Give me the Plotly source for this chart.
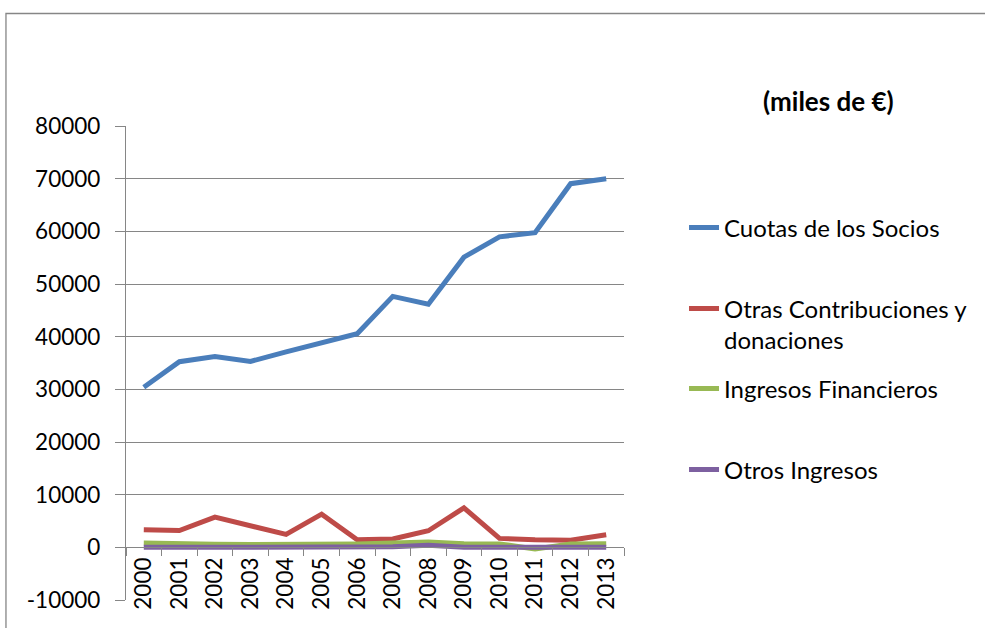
import plotly.graph_objects as go

years = ["2000", "2001", "2002", "2003", "2004", "2005", "2006",
         "2007", "2008", "2009", "2010", "2011", "2012", "2013"]
cuotas = [30400, 35250, 36250, 35300, 37100, 38900, 40550,
          47650, 46150, 55100, 58950, 59750, 69050, 70000]
otras = [3350, 3200, 5750, 4150, 2450, 6300, 1450,
         1600, 3150, 7500, 1700, 1450, 1350, 2400]
financieros = [800, 800, 600, 550, 550, 550, 650,
               800, 1000, 700, 650, -300, 650, 700]
otros_ingresos = [0, 100, 0, 0, 0, 0, 50,
                  100, 400, 0, 0, 0, 0, 0]

y_tick_values = [-10000, 0, 10000, 20000, 30000, 40000, 50000, 60000, 70000, 80000]
y_tick_labels = ["-10000", "0", "10000", "20000", "30000", "40000",
                 "50000", "60000", "70000", "80000"]

series_names = ["Cuotas de los Socios", "Otras Contribuciones y<br>donaciones",
                "Ingresos Financieros", "Otros Ingresos"]
series_values = [cuotas, otras, financieros, otros_ingresos]
colors = ["#4A7EBB", "#BE4B48", "#98B954", "#7D60A0"]
legend_ids = ["legend", "legend2", "legend3", "legend4"]

FONT = "Lato"
W, H = 985, 628
L, R, T, B = 125.5, 627.5, 126, 600


def px_x(p):
    return (p - L) / (R - L)


def px_y(p):
    return (B - p) / (B - T)


fig = go.Figure()
for name, vals, col, lg in zip(series_names, series_values, colors, legend_ids):
    fig.add_trace(go.Scatter(
        x=years, y=vals, mode="lines", name=name,
        line=dict(color=col, width=5),
        legend=lg, hoverinfo="skip",
    ))

legend_common = dict(
    xanchor="left", yanchor="middle", valign="top",
    bgcolor="rgba(0,0,0,0)", borderwidth=0,
    font=dict(family=FONT, size=24, color="#000000"),
)
legend_centers = [228, 324.5, 389, 470]

layout_legends = {}
for lg, cy in zip(legend_ids, legend_centers):
    layout_legends[lg] = dict(x=px_x(688), y=px_y(cy), **legend_common)

fig.update_layout(
    width=W, height=H,
    margin=dict(l=L, r=W - R, t=T, b=H - B, pad=0),
    paper_bgcolor="white", plot_bgcolor="white",
    font=dict(family=FONT, size=22, color="#000000"),
    showlegend=True,
    **layout_legends,
    xaxis=dict(
        type="category", anchor="free", position=1 / 9,
        showline=True, linecolor="#868686", linewidth=1.3,
        ticks="outside", tickson="boundaries", ticklen=8,
        tickcolor="#868686", tickwidth=1.3,
        tickangle=-90, showgrid=False, zeroline=False,
        tickfont=dict(family=FONT, size=22.5, color="#000000"),
        range=[-0.5, 13.5],
    ),
    yaxis=dict(
        range=[-10000, 80000], tickmode="array",
        tickvals=y_tick_values, ticktext=y_tick_labels,
        showline=True, linecolor="#868686", linewidth=1.3,
        ticks="outside", ticklen=10, tickcolor="#868686", tickwidth=1.3,
        showgrid=True, gridcolor="#868686", gridwidth=1.3,
        zeroline=False, ticklabelstandoff=10,
        tickfont=dict(family=FONT, size=22.5, color="#000000"),
    ),
    annotations=[dict(
        text="<b>(miles de €)</b>", xref="paper", yref="paper",
        x=px_x(834), y=px_y(101), xanchor="center", yanchor="middle",
        showarrow=False, font=dict(family=FONT, size=26, color="#000000"),
    )],
    shapes=[dict(
        type="rect", xref="paper", yref="paper",
        x0=px_x(4.5), x1=px_x(1000), y0=px_y(13.5), y1=px_y(660),
        line=dict(color="#868686", width=1.3), layer="below",
    )],
)

fig.write_html("out.html", config={"displayModeBar": False},
               post_script="document.body.style.margin='0px';")
